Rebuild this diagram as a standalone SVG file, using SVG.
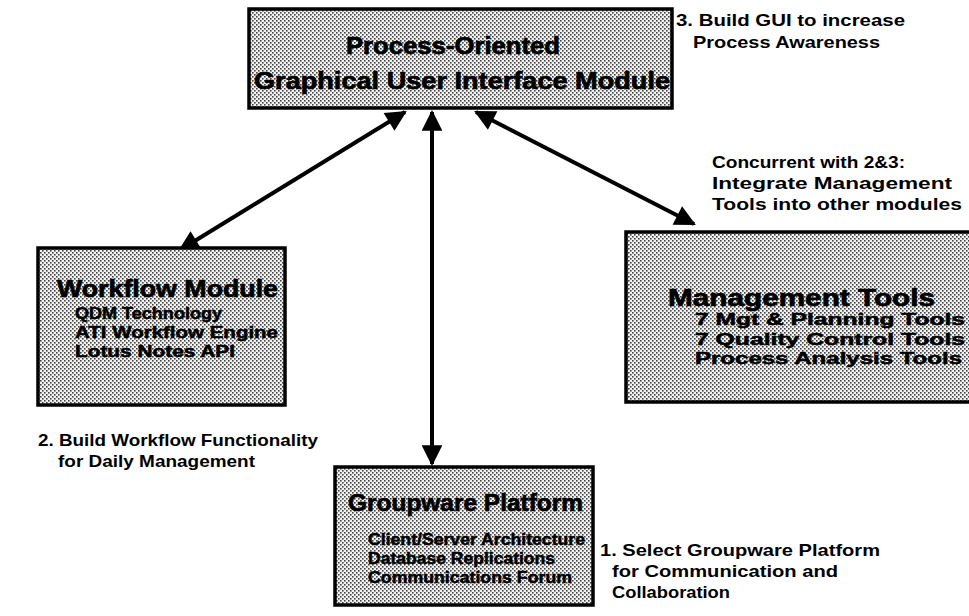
<svg xmlns="http://www.w3.org/2000/svg" width="969" height="616" viewBox="0 0 969 616">
  <defs>
    <!-- halftone screen used inside the module boxes -->
    <pattern id="screen" width="4" height="4" patternUnits="userSpaceOnUse">
      <rect width="4" height="4" fill="#f2f2f2"/>
      <rect x="0" y="0" width="1.6" height="1.6" fill="#444"/>
      <rect x="2" y="2" width="1.6" height="1.6" fill="#444"/>
    </pattern>
    <marker id="head" viewBox="0 0 10 10" refX="9" refY="5" markerWidth="7" markerHeight="5.2" orient="auto-start-reverse" markerUnits="strokeWidth">
      <path d="M0,0 L10,5 L0,10 z" fill="#000"/>
    </marker>
  </defs>
  <style>
    .box { fill: url(#screen); stroke: #000; stroke-width: 3.5; }
    .title { font-family: "Liberation Sans", Arial, sans-serif; font-weight: bold; font-size: 24px; fill: #000; stroke: #000; stroke-width: 0.7; lengthAdjust: spacingAndGlyphs; }
    .item { font-family: "Liberation Sans", Arial, sans-serif; font-weight: bold; font-size: 16px; fill: #000; stroke: #000; stroke-width: 0.5; }
    .note { font-family: "Liberation Sans", Arial, sans-serif; font-weight: bold; font-size: 17px; fill: #000; }
    .link { stroke: #000; stroke-width: 4; fill: none; marker-start: url(#head); marker-end: url(#head); }
  </style>

  <rect width="969" height="616" fill="#fff"/>

  <!-- connectors -->
  <g id="connectors">
    <line class="link" x1="405" y1="112" x2="180" y2="250"/>
    <line class="link" x1="432" y1="112" x2="432" y2="464"/>
    <line class="link" x1="476" y1="112" x2="694" y2="224"/>
  </g>

  <!-- process-oriented GUI module -->
  <g id="gui-module">
    <rect class="box" x="249" y="9" width="423" height="99"/>
    <text class="title" x="346" y="54" textLength="214" lengthAdjust="spacingAndGlyphs">Process-Oriented</text>
    <text class="title" x="254" y="89" textLength="416" lengthAdjust="spacingAndGlyphs">Graphical User Interface Module</text>
  </g>
  <g id="note-gui">
    <text class="note" x="676" y="26" textLength="229" lengthAdjust="spacingAndGlyphs">3. Build GUI to increase</text>
    <text class="note" x="693" y="48" textLength="187" lengthAdjust="spacingAndGlyphs">Process Awareness</text>
  </g>

  <!-- workflow module -->
  <g id="workflow-module">
    <rect class="box" x="38" y="248" width="247" height="157"/>
    <text class="title" x="57" y="297" textLength="221" lengthAdjust="spacingAndGlyphs">Workflow Module</text>
    <text class="item" x="75" y="319" textLength="147" lengthAdjust="spacingAndGlyphs">QDM Technology</text>
    <text class="item" x="75" y="338" textLength="203" lengthAdjust="spacingAndGlyphs">ATI Workflow Engine</text>
    <text class="item" x="75" y="357" textLength="160" lengthAdjust="spacingAndGlyphs">Lotus Notes API</text>
  </g>
  <g id="note-workflow">
    <text class="note" x="38" y="446" textLength="280" lengthAdjust="spacingAndGlyphs">2. Build Workflow Functionality</text>
    <text class="note" x="58" y="467" textLength="197" lengthAdjust="spacingAndGlyphs">for Daily Management</text>
  </g>

  <!-- management tools -->
  <g id="management-tools">
    <rect class="box" x="626" y="232" width="350" height="170"/>
    <text class="title" x="668" y="306" textLength="267" lengthAdjust="spacingAndGlyphs">Management Tools</text>
    <text class="item" x="695" y="325" textLength="270" lengthAdjust="spacingAndGlyphs">7 Mgt &amp; Planning Tools</text>
    <text class="item" x="695" y="345" textLength="270" lengthAdjust="spacingAndGlyphs">7 Quality Control Tools</text>
    <text class="item" x="695" y="364" textLength="267" lengthAdjust="spacingAndGlyphs">Process Analysis Tools</text>
  </g>
  <g id="note-management">
    <text class="note" x="712" y="168" textLength="193" lengthAdjust="spacingAndGlyphs">Concurrent with 2&amp;3:</text>
    <text class="note" x="712" y="189" textLength="240" lengthAdjust="spacingAndGlyphs">Integrate Management</text>
    <text class="note" x="712" y="210" textLength="250" lengthAdjust="spacingAndGlyphs">Tools into other modules</text>
  </g>

  <!-- groupware platform -->
  <g id="groupware-platform">
    <rect class="box" x="335" y="467" width="258" height="138"/>
    <text class="title" x="348" y="511" textLength="235" lengthAdjust="spacingAndGlyphs">Groupware Platform</text>
    <text class="item" x="368" y="545" textLength="217" lengthAdjust="spacingAndGlyphs">Client/Server Architecture</text>
    <text class="item" x="368" y="564" textLength="187" lengthAdjust="spacingAndGlyphs">Database Replications</text>
    <text class="item" x="368" y="583" textLength="204" lengthAdjust="spacingAndGlyphs">Communications Forum</text>
  </g>
  <g id="note-groupware">
    <text class="note" x="600" y="556" textLength="280" lengthAdjust="spacingAndGlyphs">1. Select Groupware Platform</text>
    <text class="note" x="612" y="577" textLength="226" lengthAdjust="spacingAndGlyphs">for Communication and</text>
    <text class="note" x="612" y="598" textLength="118" lengthAdjust="spacingAndGlyphs">Collaboration</text>
  </g>
</svg>
